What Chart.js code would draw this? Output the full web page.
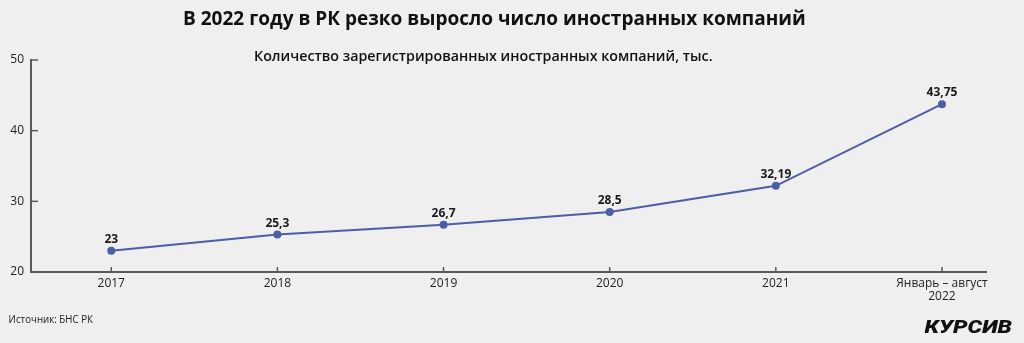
<!DOCTYPE html>
<html lang="ru">
<head>
<meta charset="utf-8">
<title>Иностранные компании в РК</title>
<script src="https://cdn.jsdelivr.net/npm/chart.js@4.4.1/dist/chart.umd.min.js"></script>
<style>
  html, body { margin: 0; padding: 0; background: #efefef; }
  #wrap { position: relative; width: 1024px; height: 343px; overflow: hidden; }
  #chartBox { position: absolute; left: 0; top: 0; width: 1024px; height: 343px; }
  .txt { position: absolute; white-space: nowrap; line-height: 1; color: #111; font-family: "Open Sans", sans-serif; transform-origin: center center; }
  #title { font-size: 20px; font-weight: 700; top: 8px; }
  #subtitle { font-size: 15px; font-weight: 600; top: 48px; }
  #source { font-size: 11px; top: 313px; color: #222; }
  #logo { font-family: Roboto, sans-serif; font-size: 18px; font-weight: 900; font-style: italic; top: 318px; color: #111; }
</style>
</head>
<body>
<div id="wrap">
  <div id="chartBox"><canvas id="chart"></canvas></div>
  <span class="txt" id="title">В 2022 году в РК резко выросло число иностранных компаний</span>
  <span class="txt" id="subtitle">Количество зарегистрированных иностранных компаний, тыс.</span>
  <span class="txt" id="source">Источник: БНС РК</span>
  <span class="txt" id="logo">КУРСИВ</span>
</div>
<script>
// Data
const categories = ['2017', '2018', '2019', '2020', '2021', ['Январь – август', '2022']];
const companies = [23, 25.3, 26.7, 28.5, 32.19, 43.75];
const yTicks = [20, 30, 40, 50];

// fit the condensed-looking headings to the widths in the original
function fitText(id, cx, width) {
  const el = document.getElementById(id);
  const w = el.offsetWidth;
  el.style.left = (cx - w / 2) + 'px';
  el.style.transform = 'scaleX(' + (width / w) + ')';
}
fitText('title', 494, 623);
fitText('subtitle', 483, 459);
fitText('source', 50, 84);
fitText('logo', 968, 88);

// inward tick marks + value labels
const decor = {
  id: 'decor',
  afterDatasetsDraw(chart) {
    const ctx = chart.ctx;
    const xs = chart.scales.x, ys = chart.scales.y;
    ctx.save();
    ctx.strokeStyle = '#5a5a5a';
    ctx.lineWidth = 1.5;
    ys.ticks.forEach(t => {
      const y = ys.getPixelForValue(t.value);
      ctx.beginPath();
      ctx.moveTo(xs.left, y);
      ctx.lineTo(xs.left + 7, y);
      ctx.stroke();
    });
    xs.ticks.forEach(t => {
      const x = xs.getPixelForValue(t.value);
      ctx.beginPath();
      ctx.moveTo(x, ys.bottom);
      ctx.lineTo(x, ys.bottom - 5);
      ctx.stroke();
    });
    ctx.fillStyle = '#1a1a1a';
    ctx.font = 'bold 12px "Open Sans", sans-serif';
    ctx.textAlign = 'center';
    ctx.textBaseline = 'alphabetic';
    chart.getDatasetMeta(0).data.forEach((p, i) => {
      ctx.fillText(String(companies[i]).replace('.', ','), p.x, p.y - 8);
    });
    ctx.restore();
  }
};

const ctx = document.getElementById('chart').getContext('2d');
new Chart(ctx, {
  type: 'line',
  data: {
    datasets: [{
      data: companies.map((v, i) => ({ x: i, y: v })),
      borderColor: '#4a5fa6',
      backgroundColor: '#4a5fa6',
      borderWidth: 2,
      pointRadius: 4,
      pointBorderWidth: 0,
      tension: 0
    }]
  },
  options: {
    responsive: true,
    maintainAspectRatio: false,
    animation: false,
    layout: { padding: { top: 60, right: 38, left: 0, bottom: 0 } },
    plugins: {
      legend: { display: false },
      tooltip: { enabled: false }
    },
    scales: {
      x: {
        type: 'linear',
        min: -0.483,
        max: 5.265,
        grid: { display: false, drawTicks: false },
        border: { color: '#5a5a5a', width: 2 },
        afterFit(scale) { scale.height = 71; },
        ticks: {
          stepSize: 1,
          includeBounds: false,
          autoSkip: false,
          maxRotation: 0,
          padding: 5,
          color: '#222',
          font: { family: '"Open Sans", sans-serif', size: 12, lineHeight: 1.1 },
          callback: v => categories[v]
        }
      },
      y: {
        min: yTicks[0],
        max: yTicks[yTicks.length - 1],
        grid: { display: false, drawTicks: false },
        border: { color: '#5a5a5a', width: 2 },
        afterFit(scale) { scale.width = 31; },
        afterBuildTicks(scale) { scale.ticks = yTicks.map(v => ({ value: v })); },
        ticks: {
          padding: 7,
          color: '#222',
          font: { family: '"Open Sans", sans-serif', size: 12 }
        }
      }
    }
  },
  plugins: [decor]
});
</script>
</body>
</html>
